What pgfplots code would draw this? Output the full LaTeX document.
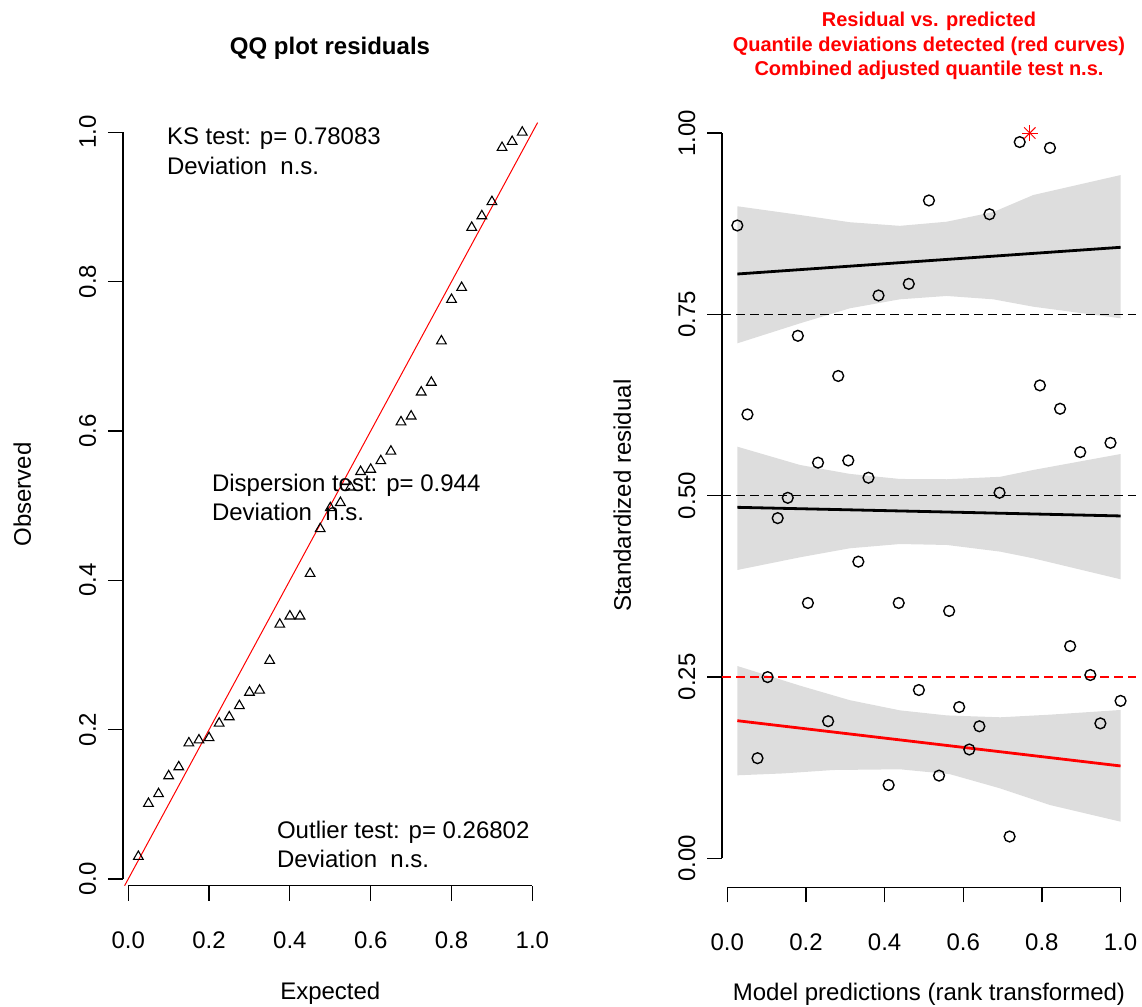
\documentclass[border=0pt]{standalone}
\usepackage{fontspec}
\setmainfont{Liberation Sans}
\usepackage{pgfplots}
\pgfplotsset{compat=1.18}
\definecolor{band}{RGB}{221,221,221}
\definecolor{rred}{RGB}{255,0,0}
\pgfplotsset{
  rstyle/.style={
    scale only axis, axis lines*=left, axis line style={draw=none},
    tick align=outside, major tick length=7.5pt,
    tick style={black, line width=0.6pt},
    clip=false,
    xticklabel style={anchor=base, yshift=-24pt},
    yticklabel style={xshift=-6pt, rotate=90, anchor=base},
    every axis x label/.style={at={(rel axis cs:0.5,-0.145)}, anchor=base},
    every axis y label/.style={at={(rel axis cs:-0.222,0.5)}, anchor=base, rotate=90},
  }
}
\newcommand{\dev}{Deviation\hspace{0.556em}n.s.}
\begin{document}
\fontsize{12pt}{14pt}\selectfont
\begin{tikzpicture}
\path[use as bounding box] (0,0) rectangle (571pt,503.5pt);

% ---------------- Left: QQ plot ----------------
\begin{axis}[rstyle,
  at={(61.5pt,60.65pt)}, anchor=south west,
  width=207.3pt, height=391.25pt,
  xmin=-0.013, xmax=1.013, ymin=-0.009, ymax=1.039,
  xtick={0,0.2,0.4,0.6,0.8,1}, xticklabels={0.0,0.2,0.4,0.6,0.8,1.0},
  ytick={0,0.2,0.4,0.6,0.8,1}, yticklabels={0.0,0.2,0.4,0.6,0.8,1.0},
  xlabel={Expected}, ylabel={Observed}]
\draw[black, line width=0.6pt] (axis cs:0,-0.009) -- (axis cs:1,-0.009);
\draw[black, line width=0.6pt] (axis cs:-0.013,0) -- (axis cs:-0.013,1);
\addplot[rred, line width=0.5pt] coordinates {(-0.009,-0.009) (1.013,1.013)};
\addplot[only marks, mark=triangle, mark size=2.8pt, mark options={black, line width=0.55pt}] coordinates {
(0.025,0.030) (0.050,0.101) (0.075,0.114) (0.100,0.138) (0.125,0.150)
(0.150,0.182) (0.175,0.186) (0.200,0.189) (0.225,0.2085) (0.250,0.217)
(0.275,0.232) (0.300,0.2498) (0.325,0.2527) (0.350,0.2925) (0.375,0.341)
(0.400,0.352) (0.425,0.352) (0.450,0.409) (0.475,0.469) (0.500,0.497)
(0.525,0.504) (0.550,0.5247) (0.575,0.5455) (0.600,0.5485) (0.625,0.560)
(0.650,0.5728) (0.675,0.612) (0.700,0.6198) (0.725,0.652) (0.750,0.665)
(0.775,0.7204) (0.800,0.776) (0.825,0.792) (0.850,0.8725) (0.875,0.888)
(0.900,0.907) (0.925,0.9795) (0.950,0.9875) (0.975,1.000)};
\node[anchor=base west, inner sep=0pt] at (axis cs:0.095,0.984) {KS test: p= 0.78083};
\node[anchor=base west, inner sep=0pt] at (axis cs:0.095,0.943) {\dev};
\node[anchor=base west, inner sep=0pt] at (axis cs:0.2064,0.5187) {Dispersion test: p= 0.944};
\node[anchor=base west, inner sep=0pt] at (axis cs:0.2064,0.4798) {\dev};
\node[anchor=base west, inner sep=0pt] at (axis cs:0.3673,0.0545) {Outlier test: p= 0.26802};
\node[anchor=base west, inner sep=0pt] at (axis cs:0.3673,0.0157) {\dev};
\end{axis}

% ---------------- Right: residual vs predicted ----------------
\begin{axis}[rstyle,
  at={(361pt,59.85pt)}, anchor=south west,
  width=206.95pt, height=391.65pt,
  xmin=-0.0134, xmax=1.039, ymin=-0.04, ymax=1.04,
  xtick={0,0.2,0.4,0.6,0.8,1}, xticklabels={0.0,0.2,0.4,0.6,0.8,1.0},
  ytick={0,0.25,0.5,0.75,1}, yticklabels={0.00,0.25,0.50,0.75,1.00},
  xlabel={Model predictions (rank transformed)}, ylabel={Standardized residual},
  every axis y label/.style={at={(rel axis cs:-0.22,0.5)}, anchor=base, rotate=90}]
\draw[black, line width=0.6pt] (axis cs:0,-0.04) -- (axis cs:1,-0.04);
\draw[black, line width=0.6pt] (axis cs:-0.0134,0) -- (axis cs:-0.0134,1);
% bands
\addplot[fill=band, draw=none] coordinates {(0.0256,0.899) (0.185,0.887) (0.3115,0.877) (0.4388,0.872) (0.558,0.8777) (0.6763,0.891) (0.778,0.9145) (1.0,0.942) (1.0,0.7445) (0.778,0.7605) (0.6763,0.7707) (0.558,0.7753) (0.4388,0.7707) (0.3115,0.7583) (0.185,0.7376) (0.0256,0.710)} -- cycle;
\addplot[fill=band, draw=none] coordinates {(0.0256,0.5675) (0.185,0.5423) (0.3115,0.530) (0.4388,0.523) (0.558,0.5226) (0.694,0.526) (0.778,0.5354) (1.0,0.5574) (1.0,0.3847) (0.778,0.4136) (0.694,0.4228) (0.558,0.432) (0.4388,0.4333) (0.3115,0.4274) (0.185,0.415) (0.0256,0.3975)} -- cycle;
\addplot[fill=band, draw=none] coordinates {(0.0256,0.2651) (0.185,0.238) (0.3115,0.218) (0.4388,0.204) (0.558,0.197) (0.694,0.1944) (0.82,0.198) (1.0,0.2045) (1.0,0.0505) (0.82,0.0735) (0.693,0.0965) (0.566,0.116) (0.439,0.1227) (0.269,0.1217) (0.1425,0.117) (0.0256,0.1144)} -- cycle;
% reference lines
\addplot[black, line width=0.6pt, dash pattern=on 4.5pt off 2.5pt] coordinates {(-0.0134,0.75) (1.039,0.75)};
\addplot[black, line width=0.6pt, dash pattern=on 4.5pt off 2.5pt] coordinates {(-0.0134,0.5) (1.039,0.5)};
\addplot[rred, line width=0.6pt, dash pattern=on 4.5pt off 2.5pt] coordinates {(-0.0134,0.25) (1.039,0.25)};
% quantile curves
\addplot[black, line width=1.4pt] coordinates {(0.0256,0.8056) (0.5128,0.824) (1.0,0.8424)};
\addplot[black, line width=1.4pt] coordinates {(0.0256,0.4839) (0.5128,0.478) (1.0,0.472)};
\addplot[rred, line width=1.4pt] coordinates {(0.0256,0.1897) (0.5128,0.1585) (1.0,0.1273)};
% points
\addplot[only marks, mark=o, mark size=2.7pt, mark options={black, line width=0.7pt}] coordinates {
(0.0256,0.8725) (0.0513,0.612) (0.0769,0.138) (0.1026,0.2498) (0.1282,0.469)
(0.1538,0.497) (0.1795,0.7204) (0.2051,0.352) (0.2308,0.5455) (0.2564,0.189)
(0.2821,0.665) (0.3077,0.5485) (0.3333,0.409) (0.3590,0.5247) (0.3846,0.776)
(0.4103,0.101) (0.4359,0.352) (0.4615,0.792) (0.4872,0.232) (0.5128,0.907)
(0.5385,0.114) (0.5641,0.341) (0.5897,0.2085) (0.6154,0.150) (0.6410,0.182)
(0.6667,0.888) (0.6923,0.504) (0.7179,0.030) (0.7436,0.9875)
(0.7949,0.652) (0.8205,0.9795) (0.8462,0.6198) (0.8718,0.2925) (0.8974,0.560)
(0.9231,0.2527) (0.9487,0.186) (0.9744,0.5728) (1.0000,0.217)};
\addplot[only marks, mark=+, mark size=4pt, mark options={rred, line width=0.5pt}] coordinates {(0.7692,1.0)};
\addplot[only marks, mark=x, mark size=4pt, mark options={rred, line width=0.5pt}] coordinates {(0.7692,1.0)};
\end{axis}

% titles
\node[anchor=base, font=\bfseries] at (165pt,476pt) {QQ plot residuals};
\node[anchor=base, font=\bfseries\fontsize{10pt}{12pt}\selectfont, text=rred] at (464.5pt,490pt) {Residual vs. predicted};
\node[anchor=base, font=\bfseries\fontsize{10pt}{12pt}\selectfont, text=rred] at (464.5pt,477.5pt) {Quantile deviations detected (red curves)};
\node[anchor=base, font=\bfseries\fontsize{10pt}{12pt}\selectfont, text=rred] at (464.5pt,465.5pt) {Combined adjusted quantile test n.s.};
\end{tikzpicture}
\end{document}
